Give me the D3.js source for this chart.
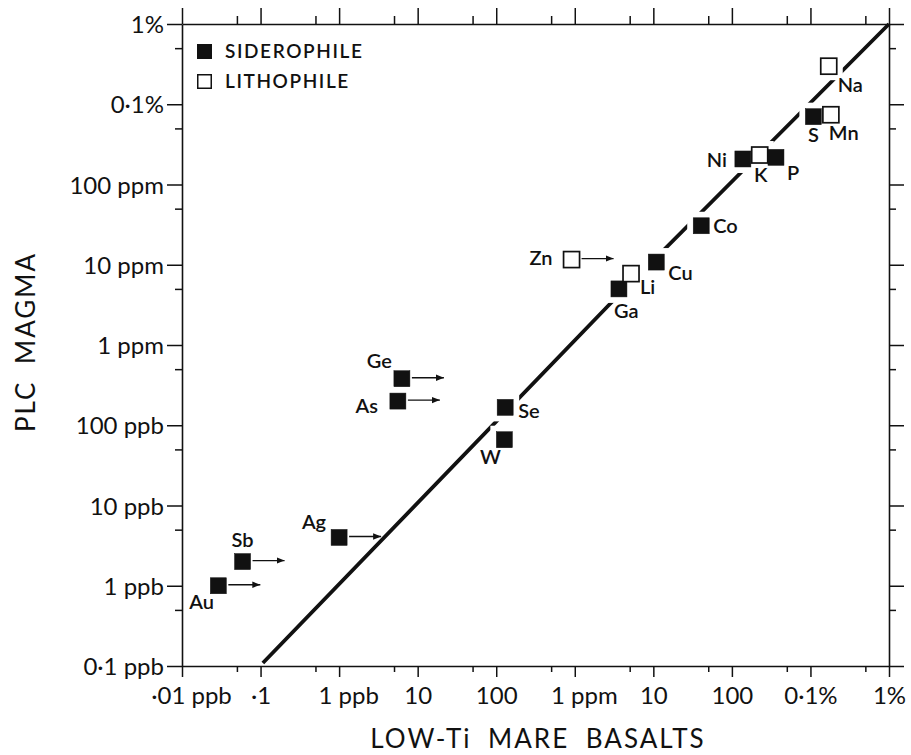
<!DOCTYPE html>
<html>
<head>
<meta charset="utf-8">
<script src="https://cdnjs.cloudflare.com/ajax/libs/d3/7.8.5/d3.min.js"></script>
<style>
  body { margin: 0; background: #fff; }
  svg { font-family: Lato, "Noto Sans", sans-serif; }
</style>
</head>
<body>
<div id="chart"></div>
<script>
// concentrations in ppb (1 ppm = 1e3 ppb, 1% = 1e7 ppb)
var elements = ["Au", "Sb", "Ag", "Ge", "As", "Se", "W", "Ga", "Li", "Cu", "Zn", "Co", "Ni", "K", "P", "S", "Mn", "Na"];
var basalt   = [0.029, 0.059, 1.0, 6.3, 5.6, 130, 127, 3650, 5200, 10900, 910, 40700, 138000, 226000, 364000, 1090000, 1820000, 1710000];
var plc      = [1.0, 2.0, 4.0, 380, 200, 167, 66, 5000, 7750, 10800, 11600, 30600, 208000, 233000, 218000, 700000, 740000, 2980000];
var lithophiles = ["Li", "Zn", "K", "Mn", "Na"];
var lowerLimits = ["Au", "Sb", "Ag", "Ge", "As", "Zn"];

// 1:1 line, points
var lineBasalt = [0.107, 2720, 1e7];
var linePlc    = [0.109, 3150, 1e7];

var xTicks = [0.01, 0.1, 1, 10, 100, 1e3, 1e4, 1e5, 1e6, 1e7];
var xTickLabels = ["\u00b701 ppb", "\u00b71", "1 ppb", "10", "100", "1 ppm", "10", "100", "0\u00b71%", "1%"];
var yTicks = [0.1, 1, 10, 100, 1e3, 1e4, 1e5, 1e6, 1e7];
var yTickLabels = ["0\u00b71 ppb", "1 ppb", "10 ppb", "100 ppb", "1 ppm", "10 ppm", "100 ppm", "0\u00b71%", "1%"];
var xMinor = [0.05, 0.5, 5, 50, 500, 5e3, 5e4, 5e5, 5e6];
var yMinor = [0.5, 5, 50, 500, 5e3, 5e4, 5e5, 5e6];

var legendNames = ["SIDEROPHILE", "LITHOPHILE"];

// label placement relative to the marker: [dx, dy, anchor]
var labelPos = {
    Au: [-29, 23, "start"], Sb: [0, -15, "middle"], Ag: [-13, -8, "end"],
    Ge: [-10, -11, "end"], As: [-20, 12, "end"], Se: [13, 11, "start"],
    W: [-14, 24, "middle"], Ga: [-5, 29, "start"], Li: [9, 20, "start"],
    Cu: [12, 18, "start"], Zn: [-19, 5, "end"], Co: [12, 7, "start"],
    Ni: [-16, 8, "end"], K: [1, 27, "middle"], P: [11, 23, "start"],
    S: [0, 25, "middle"], Mn: [-2, 25, "start"], Na: [9, 26, "start"]
};

function init() {
    var w = 911, h = 755;
    var left = 182, right = 889, top = 24, bottom = 666;
    var size = 16;

    var svg = d3.select("#chart").append("svg")
        .attr("width", w)
        .attr("height", h);

    var xScale = d3.scaleLog().domain([0.01, 1e7]).range([left, right]);
    var yScale = d3.scaleLog().domain([0.1, 1e7]).range([bottom, top]);

    svg.append("defs").append("marker")
        .attr("id", "head")
        .attr("markerUnits", "userSpaceOnUse")
        .attr("markerWidth", 9).attr("markerHeight", 8)
        .attr("refX", 8).attr("refY", 4)
        .attr("orient", "auto")
        .append("path")
        .attr("d", "M0,0.8 L8,4 L0,7.2 Z")
        .attr("fill", "#111");

    var pts = elements.map(function(e, i) {
        return { name: e, x: basalt[i], y: plc[i], litho: lithophiles.indexOf(e) >= 0, limit: lowerLimits.indexOf(e) >= 0 };
    });

    // 1:1 line
    var line = d3.line()
        .x(function(d) { return xScale(d[0]); })
        .y(function(d) { return yScale(d[1]); });
    svg.append("path")
        .datum(d3.zip(lineBasalt, linePlc))
        .attr("d", line)
        .attr("fill", "none")
        .attr("stroke", "#111")
        .attr("stroke-width", 3.8);

    // white halos so the line breaks round the markers
    svg.selectAll(".halo").data(pts).enter().append("rect")
        .attr("class", "halo")
        .attr("x", function(d) { return xScale(d.x) - size / 2 - 6; })
        .attr("y", function(d) { return yScale(d.y) - size / 2 - 6; })
        .attr("width", size + 12).attr("height", size + 12)
        .attr("fill", "#fff");

    // element labels
    svg.selectAll(".lab").data(pts).enter().append("text")
        .attr("class", "lab")
        .attr("x", function(d) { return xScale(d.x) + labelPos[d.name][0]; })
        .attr("y", function(d) { return yScale(d.y) + labelPos[d.name][1]; })
        .attr("text-anchor", function(d) { return labelPos[d.name][2]; })
        .attr("font-size", 20)
        .attr("font-weight", 600)
        .attr("fill", "#111")
        .attr("stroke", "#fff").attr("stroke-width", 6)
        .attr("paint-order", "stroke")
        .text(function(d) { return d.name; });

    // lower limit arrows
    svg.selectAll(".arrow").data(pts.filter(function(d) { return d.limit; })).enter().append("line")
        .attr("class", "arrow")
        .attr("x1", function(d) { return xScale(d.x) + size / 2 + 2; })
        .attr("x2", function(d) { return xScale(d.x) + size / 2 + 34; })
        .attr("y1", function(d) { return yScale(d.y) - 1; })
        .attr("y2", function(d) { return yScale(d.y) - 1; })
        .attr("stroke", "#111")
        .attr("stroke-width", 1.4)
        .attr("marker-end", "url(#head)");

    // markers
    svg.selectAll(".pt").data(pts).enter().append("rect")
        .attr("class", "pt")
        .attr("x", function(d) { return xScale(d.x) - size / 2; })
        .attr("y", function(d) { return yScale(d.y) - size / 2; })
        .attr("width", size).attr("height", size)
        .attr("fill", function(d) { return d.litho ? "#fff" : "#111"; })
        .attr("stroke", "#111")
        .attr("stroke-width", function(d) { return d.litho ? 1.7 : 0.5; });

    // legend
    var leg = svg.append("g").attr("transform", "translate(197,44)");
    legendNames.forEach(function(name, i) {
        leg.append("rect")
            .attr("x", 0.75).attr("y", i * 30 + 0.75)
            .attr("width", 13.5).attr("height", 13.5)
            .attr("fill", i === 0 ? "#111" : "#fff")
            .attr("stroke", "#111").attr("stroke-width", 1.5);
        leg.append("text")
            .attr("x", 28).attr("y", i * 30 + 13.5)
            .attr("font-size", 19)
            .attr("font-weight", 600)
            .attr("letter-spacing", 1.6)
            .attr("fill", "#111")
            .text(name);
    });

    // axes
    function styleAxis(g) {
        g.select(".domain").attr("stroke", "#111").attr("stroke-width", 1.6);
        g.selectAll(".tick line").attr("stroke", "#111").attr("stroke-width", 1.5);
        g.selectAll(".tick text").attr("fill", "#111").attr("font-size", 24).attr("font-family", "Lato, sans-serif");
    }

    var xAxis = d3.axisBottom(xScale).tickValues(xTicks).tickSizeInner(11).tickSizeOuter(0).tickPadding(10)
        .tickFormat(function(d, i) { return xTickLabels[i]; });
    var gx = svg.append("g").attr("transform", "translate(0," + bottom + ")").call(xAxis).call(styleAxis);
    gx.selectAll(".tick text").attr("dx", function(d, i) { return xTickLabels[i].indexOf(" ") > 0 ? 9 : 0; });
    svg.append("g").attr("transform", "translate(0," + bottom + ")")
        .call(d3.axisBottom(xScale).tickValues(xMinor).tickSize(6).tickFormat(""))
        .call(styleAxis).select(".domain").remove();

    var yAxis = d3.axisLeft(yScale).tickValues(yTicks).tickSizeInner(15).tickSizeOuter(0).tickPadding(3)
        .tickFormat(function(d, i) { return yTickLabels[i]; });
    svg.append("g").attr("transform", "translate(" + left + ",0)").call(yAxis).call(styleAxis)
        .selectAll(".tick text").attr("dy", "0.36em");
    svg.append("g").attr("transform", "translate(" + left + ",0)")
        .call(d3.axisLeft(yScale).tickValues(yMinor).tickSize(7).tickFormat(""))
        .call(styleAxis).select(".domain").remove();

    svg.append("g").attr("transform", "translate(0," + top + ")")
        .call(d3.axisTop(xScale).tickValues(xTicks).tickSizeInner(16).tickSizeOuter(0).tickFormat(""))
        .call(styleAxis);
    svg.append("g").attr("transform", "translate(0," + top + ")")
        .call(d3.axisTop(xScale).tickValues(xMinor).tickSize(8).tickFormat(""))
        .call(styleAxis).select(".domain").remove();

    svg.append("g").attr("transform", "translate(" + right + ",0)")
        .call(d3.axisRight(yScale).tickValues(yTicks).tickSizeInner(15).tickSizeOuter(0).tickFormat(""))
        .call(styleAxis);
    svg.append("g").attr("transform", "translate(" + right + ",0)")
        .call(d3.axisRight(yScale).tickValues(yMinor).tickSize(7).tickFormat(""))
        .call(styleAxis).select(".domain").remove();

    // axis titles
    svg.append("text")
        .attr("x", 538).attr("y", 748)
        .attr("text-anchor", "middle")
        .attr("font-size", 26)
        .attr("letter-spacing", 2)
        .attr("word-spacing", 8)
        .attr("fill", "#111")
        .text("LOW-Ti MARE BASALTS");

    svg.append("text")
        .attr("transform", "translate(35,342) rotate(-90)")
        .attr("text-anchor", "middle")
        .attr("font-size", 26)
        .attr("letter-spacing", 2)
        .attr("word-spacing", 8)
        .attr("fill", "#111")
        .text("PLC MAGMA");
}

init();
</script>
</body>
</html>
